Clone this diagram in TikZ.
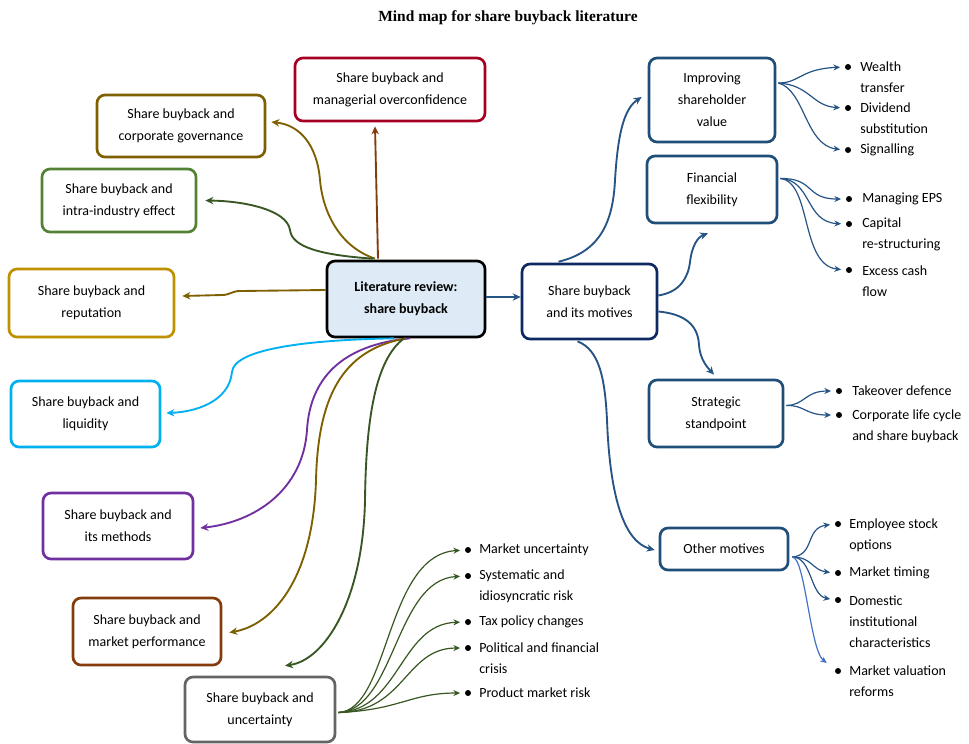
\documentclass[tikz,border=0pt]{standalone}
\usepackage{fontspec}
\setmainfont{Carlito}
\newfontfamily\titlefont{Liberation Serif}
\usetikzlibrary{arrows.meta,calc}
\definecolor{lblue}{RGB}{38,84,132}
\definecolor{bblue}{RGB}{31,78,121}
\definecolor{navy}{RGB}{14,40,100}
\definecolor{cfill}{RGB}{222,234,246}
\definecolor{cred}{RGB}{165,0,33}
\definecolor{colive}{RGB}{127,96,0}
\definecolor{cgreen}{RGB}{84,130,53}
\definecolor{dgreen}{RGB}{56,87,35}
\definecolor{cgold}{RGB}{191,144,0}
\definecolor{ccyan}{RGB}{0,176,240}
\definecolor{cpurple}{RGB}{112,48,160}
\definecolor{cbrown}{RGB}{132,60,12}
\definecolor{cgray}{RGB}{100,100,100}
\definecolor{vblue}{RGB}{68,114,196}
\begin{document}
\begin{tikzpicture}[x=0.75pt,y=-0.75pt,
  box/.style={draw, rounded corners=6pt, line width=2pt, align=center,
    font=\fontsize{10.5}{16.5}\selectfont, fill=white, inner sep=2pt},
  sz/.style 2 args={minimum width=#1*0.75pt, minimum height=#2*0.75pt},
  conn/.style={line width=1.4pt, -{Stealth[length=6pt,width=5.5pt]}},
  fan/.style={line width=0.9pt, -{Stealth[length=5pt,width=4.5pt]}, shorten >=3.5pt},
  dot/.style={circle, fill=black, inner sep=0pt, minimum size=4.5pt},
  btxt/.style={anchor=west, align=left, inner sep=0pt, font=\fontsize{10.5}{15.75}\selectfont}]
\useasboundingbox[fill=white] (0,0) rectangle (969,743);

\node[font=\titlefont\bfseries\fontsize{11.6}{14}\selectfont] (title) at (508,18) {Mind map for share buyback literature};

% main boxes
\node[box, sz={158}{76}, fill=cfill, draw=black, font=\bfseries\fontsize{10.5}{16.5}\selectfont] (cent) at (406,299) {Literature review:\\share buyback};
\node[box, sz={135}{75}, draw=navy] (mot) at (589.5,301.5) {Share buyback\\and its motives};
\node[box, sz={126}{84}, draw=bblue] (imp) at (712,100) {Improving\\shareholder\\value};
\node[box, sz={130}{67}, draw=bblue] (fin) at (712,189.5) {Financial\\flexibility};
\node[box, sz={134}{67}, draw=bblue] (str) at (716,413.5) {Strategic\\standpoint};
\node[box, sz={128}{42}, draw=bblue] (oth) at (724,549) {Other motives};

\node[box, sz={190}{63}, draw=cred] (ovc) at (390,89.5) {Share buyback and\\managerial overconfidence};
\node[box, sz={168}{62}, draw=colive] (gov) at (181,126) {Share buyback and\\corporate governance};
\node[box, sz={154}{63}, draw=cgreen] (intra) at (119,200.5) {Share buyback and\\intra-industry effect};
\node[box, sz={165}{68}, draw=cgold] (rep) at (91.5,303) {Share buyback and\\reputation};
\node[box, sz={149}{66}, draw=ccyan] (liq) at (85.5,414) {Share buyback and\\liquidity};
\node[box, sz={150}{66}, draw=cpurple] (meth) at (118,526) {Share buyback and\\its methods};
\node[box, sz={148}{67}, draw=cbrown] (mp) at (147,631.5) {Share buyback and\\market performance};
\node[box, sz={150}{65}, draw=cgray] (unc) at (260,709.5) {Share buyback and\\uncertainty};

% bullets: improving
\node[dot] (dw) at (848,67) {};
\node[btxt] (tw) at (860,77.5) {Wealth\\transfer};
\node[dot] (dd) at (848,108) {};
\node[btxt] (td) at (860,118.5) {Dividend\\substitution};
\node[dot] (ds) at (848,150) {};
\node[btxt] (ts) at (860,150) {Signalling};
% financial
\node[dot] (de) at (849,199) {};
\node[btxt] (te) at (862,199) {Managing EPS};
\node[dot] (dc) at (849,224) {};
\node[btxt] (tc) at (862,234.5) {Capital\\re-structuring};
\node[dot] (dx) at (849,270) {};
\node[btxt] (tx) at (862,281) {Excess cash\\flow};
% strategic
\node[dot] (dt) at (839,391) {};
\node[btxt] (tt) at (852,391) {Takeover defence};
\node[dot] (dl) at (839,415) {};
\node[btxt] (tl) at (852,426) {Corporate life cycle\\and share buyback};
% other
\node[dot] (dem) at (838,524) {};
\node[btxt] (tem) at (849,535) {Employee stock\\options};
\node[dot] (dmt) at (838,573) {};
\node[btxt] (tmt) at (849,573) {Market timing};
\node[dot] (ddo) at (838,600) {};
\node[btxt] (tdo) at (849,621.5) {Domestic\\institutional\\characteristics};
\node[dot] (dva) at (838,671) {};
\node[btxt] (tva) at (849,681.5) {Market valuation\\reforms};
% uncertainty
\node[dot] (du1) at (468,550) {};
\node[btxt] (tu1) at (479,550) {Market uncertainty};
\node[dot] (du2) at (468,576) {};
\node[btxt] (tu2) at (479,586.5) {Systematic and\\idiosyncratic risk};
\node[dot] (du3) at (468,622) {};
\node[btxt] (tu3) at (479,622) {Tax policy changes};
\node[dot] (du4) at (468,648) {};
\node[btxt] (tu4) at (479,658) {Political and financial\\crisis};
\node[dot] (du5) at (468,693) {};
\node[btxt] (tu5) at (479,693) {Product market risk};

% connectors from centre
\draw[conn, lblue] ($(cent.east)+(0,-2)$) -- ($(mot.west)+(0,-4.5)$);
\draw[conn, cbrown] ($(cent.north)+(-28,-1)$) -- ($(ovc.south)+(-15,4)$);
\draw[conn, colive] ($(cent.north)+(-31,-1)$) .. controls (335,245) and (322,205) .. (320,180)
  .. controls (317,145) and (300,125) .. ($(gov.east)+(5,-4)$);
\draw[conn, dgreen] ($(cent.north)+(-33,-1)$) .. controls (320,255) and (292,247) .. (290,230)
  .. controls (287,210) and (245,201) .. ($(intra.east)+(8,0)$);
\draw[conn, colive] ($(cent.west)+(0,-9)$) -- (240,291) .. controls (232,291) and (230,295) .. (222,295)
  -- ($(rep.east)+(7,-7)$);
\draw[conn, ccyan] ($(cent.south)+(-12,0)$) .. controls (300,340) and (234,350) .. (232,372)
  .. controls (229,402) and (195,412) .. ($(liq.east)+(5,-1)$);
\draw[conn, cpurple] ($(cent.south)+(4,0)$) .. controls (340,345) and (310,380) .. (307,430)
  .. controls (303,490) and (255,522) .. ($(meth.east)+(6,2)$);
\draw[conn, colive] ($(cent.south)+(0,0)$) .. controls (340,350) and (318,400) .. (316,480)
  .. controls (313,580) and (272,625) .. ($(mp.east)+(7,1)$);
\draw[conn, dgreen] ($(cent.south)+(-2,0)$) .. controls (375,360) and (366,420) .. (365,500)
  .. controls (363,600) and (325,660) .. ($(unc.north)+(25,-10)$);

% connectors from motives
\draw[conn, lblue] ($(mot.north)+(-31,-1)$) .. controls (600,252) and (613,222) .. (615,180)
  .. controls (618,130) and (625,108) .. ($(imp.west)+(-6,-3)$);
\draw[conn, lblue] ($(mot.east)+(0,-6)$) .. controls (680,292) and (688,278) .. (690,262)
  .. controls (692,245) and (698,237) .. ($(fin.south)+(-4,9)$);
\draw[conn, lblue] ($(mot.east)+(0,10)$) .. controls (685,314) and (698,325) .. (699,345)
  .. controls (700,360) and (708,368) .. ($(str.north)+(-2,-4)$);
\draw[conn, lblue] ($(mot.south)+(-12,1)$) .. controls (600,350) and (605,380) .. (607,420)
  .. controls (610,500) and (625,542) .. ($(oth.west)+(-4,1)$);

% fans
\draw[fan, lblue] ($(imp.east)+(2,-17)$) .. controls (800,83) and (800,69) .. (dw.west);
\draw[fan, lblue] ($(imp.east)+(2,-17)$) .. controls (810,85) and (812,106) .. (dd.west);
\draw[fan, lblue] ($(imp.east)+(2,-17)$) .. controls (805,90) and (805,145) .. (ds.west);

\draw[fan, lblue] ($(fin.east)+(2,-11)$) .. controls (815,178) and (805,199) .. (de.west);
\draw[fan, lblue] ($(fin.east)+(2,-11)$) .. controls (812,180) and (805,222) .. (dc.west);
\draw[fan, lblue] ($(fin.east)+(2,-11)$) .. controls (812,182) and (800,265) .. (dx.west);

\draw[fan, lblue] ($(str.east)+(2,-8)$) .. controls (805,405) and (805,391) .. (dt.west);
\draw[fan, lblue] ($(str.east)+(2,-8)$) .. controls (805,405) and (805,415) .. (dl.west);

\draw[fan, lblue] ($(oth.east)+(3,8)$) .. controls (815,555) and (805,528) .. (dem.west);
\draw[fan, lblue] ($(oth.east)+(3,8)$) .. controls (812,557) and (812,570) .. (dmt.west);
\draw[fan, lblue] ($(oth.east)+(3,8)$) .. controls (812,557) and (810,595) .. (ddo.west);
\draw[fan, vblue, shorten >=0pt] ($(oth.east)+(3,8)$) .. controls (805,557) and (810,650) .. ($(dva.west)+(-8,-8)$);

\draw[fan, dgreen] ($(unc.east)+(2,3)$) .. controls (390,710) and (385,555) .. (du1.west);
\draw[fan, dgreen] ($(unc.east)+(2,3)$) .. controls (395,710) and (395,580) .. (du2.west);
\draw[fan, dgreen] ($(unc.east)+(2,3)$) .. controls (400,710) and (400,624) .. (du3.west);
\draw[fan, dgreen] ($(unc.east)+(2,3)$) .. controls (405,712) and (405,648) .. (du4.west);
\draw[fan, dgreen] ($(unc.east)+(2,3)$) .. controls (400,710) and (410,693) .. (du5.west);
\end{tikzpicture}
\end{document}
